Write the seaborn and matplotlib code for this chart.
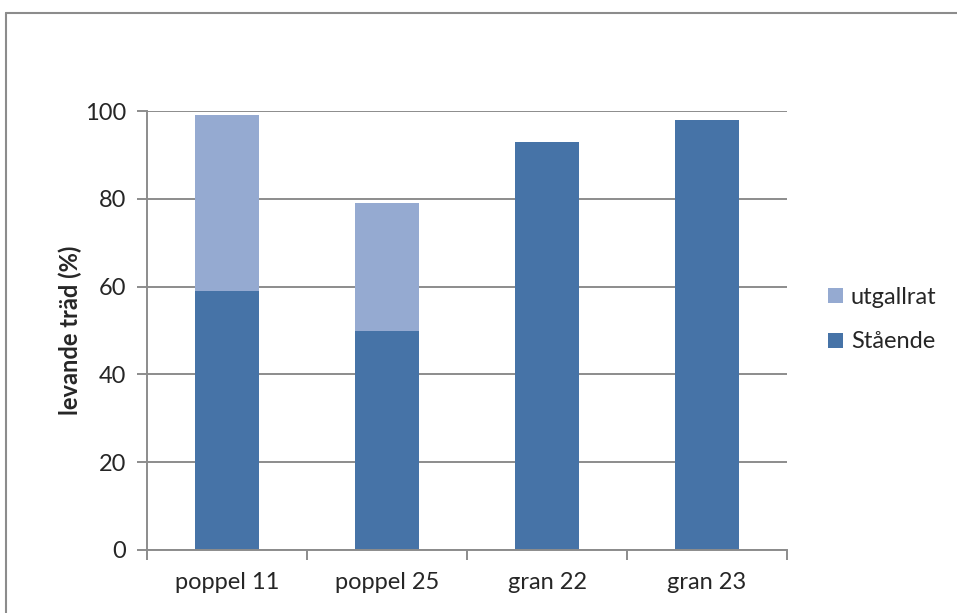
import matplotlib
matplotlib.use('Agg')
import matplotlib.pyplot as plt
import matplotlib.lines as mlines
import seaborn as sns
import pandas as pd

# data
categories = ['poppel 11', 'poppel 25', 'gran 22', 'gran 23']
staende = [59, 50, 93, 98]
utgallrat = [40, 29, 0, 0]

dark_blue = '#4673A7'
light_blue = '#95AAD1'

df = pd.DataFrame({'kategori': categories, 'Stående': staende, 'utgallrat': utgallrat})
df['total'] = df['Stående'] + df['utgallrat']

sns.set_theme(style='white')
plt.rcParams['font.family'] = ['Lato', 'DejaVu Sans']
fs = 17

fig = plt.figure(figsize=(9.57, 6.13), dpi=100)
ax = fig.add_axes([147 / 957, 1 - 550 / 613, 640 / 957, 439 / 613])

sns.barplot(data=df, x='kategori', y='total', color=light_blue, width=0.4,
            saturation=1, linewidth=0, ax=ax, label='utgallrat')
sns.barplot(data=df, x='kategori', y='Stående', color=dark_blue, width=0.4,
            saturation=1, linewidth=0, ax=ax, label='Stående')

ax.set_ylim(0, 100)
ax.set_xlim(-0.5, 3.5)
ax.set_yticks([0, 20, 40, 60, 80, 100])
ax.yaxis.grid(True, color='#8C8C8C', linewidth=1.4)
ax.set_axisbelow(True)
for s in ['top', 'right']:
    ax.spines[s].set_visible(False)
for s in ['left', 'bottom']:
    ax.spines[s].set_color('#8C8C8C')
    ax.spines[s].set_linewidth(1.4)

# category boundary ticks on x axis
ax.set_xticks([-0.5, 0.5, 1.5, 2.5, 3.5], minor=False)
ax.set_xticklabels([])
ax.set_xticks(range(len(categories)), minor=True)
ax.set_xticklabels(categories, minor=True, fontsize=fs)
ax.tick_params(axis='x', which='major', direction='out', length=7, width=1.4,
               color='#8C8C8C', bottom=True)
ax.tick_params(axis='x', which='minor', length=0, pad=16)
ax.tick_params(axis='y', direction='out', length=7, width=1.4, color='#8C8C8C',
               left=True, labelsize=fs, pad=8)

ax.set_xlabel('')
ax.set_ylabel('levande träd (%)', fontsize=fs, fontweight='bold', labelpad=2)

handles, labels = ax.get_legend_handles_labels()
ax.legend(handles, labels, loc='center left', bbox_to_anchor=(1.05, 0.525),
          frameon=False, fontsize=fs, handlelength=0.6, handleheight=0.6,
          handletextpad=0.35, labelspacing=1.0, borderaxespad=0)

# chart border (top and left edges visible)
fig.add_artist(mlines.Line2D([6 / 957, 6 / 957], [0, 1 - 13 / 613],
                             transform=fig.transFigure, color='#8C8C8C', lw=1.5))
fig.add_artist(mlines.Line2D([6 / 957, 1], [1 - 13 / 613, 1 - 13 / 613],
                             transform=fig.transFigure, color='#8C8C8C', lw=1.5))

fig.savefig('out.png', dpi=100)
plt.close(fig)
